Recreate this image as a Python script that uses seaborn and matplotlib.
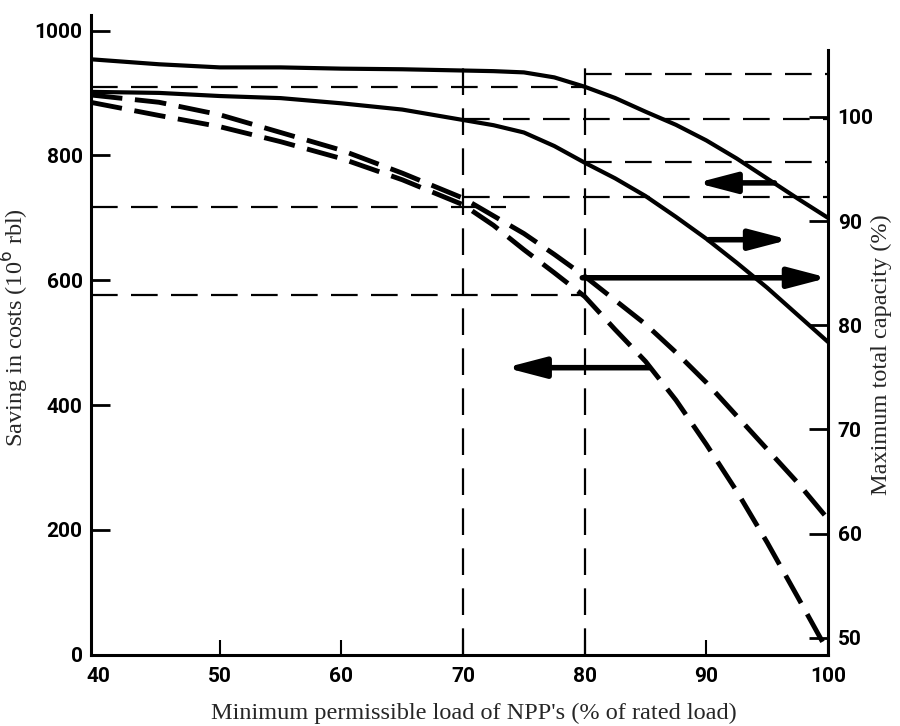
import matplotlib
matplotlib.use("Agg")
import matplotlib.pyplot as plt
import seaborn as sns

# values
load = [39.4, 45, 50, 55, 60, 65, 70, 72.5, 75, 77.5, 80, 82.5, 85, 87.5, 90, 92.5, 95, 97.5, 100]
saving_solid = [954, 946, 941, 941, 939, 938, 936, 935, 933, 925, 910, 892, 870, 849, 824, 795, 763, 731, 700]
saving_dashed = [885, 864, 846, 822, 795, 761, 721, 688, 649, 612, 574, 521, 470, 408, 337, 262, 180, 93, 5]
capacity_solid = [102.4, 102.3, 102.0, 101.8, 101.3, 100.7, 99.7, 99.2, 98.5, 97.2, 95.6, 94.1, 92.4,
                  90.4, 88.3, 86.0, 83.6, 81.0, 78.4]
capacity_dashed = [102.1, 101.4, 100.2, 98.5, 96.8, 94.6, 92.2, 90.5, 88.8, 86.8, 84.7, 82.4, 80.1,
                   77.4, 74.5, 71.3, 68.1, 64.9, 61.4]

# construction lines: (level, x start, x end)
guides_left = [(910, 39.4, 80), (718, 39.4, 73.5), (577, 39.4, 80)]
guides_right = [(104.1, 80, 100), (99.8, 70, 100), (95.7, 80, 100), (92.3, 70, 100)]
guides_vert = [70, 80]
guide_top = 950

# arrows: (tail x, head x, level on saving axis)
arrows = [(95.6, 89.2, 756), (90.2, 96.8, 665), (79.8, 100, 604), (85.3, 73.5, 460)]

x_ticks = [40, 50, 60, 70, 80, 90, 100]
left_ticks = [0, 200, 400, 600, 800, 1000]
right_ticks = [50, 60, 70, 80, 90, 100]

sns.set_style("ticks")
plt.rcParams["font.family"] = ["Roboto", "DejaVu Sans"]
serif = ["Liberation Serif", "DejaVu Serif"]

fig = plt.figure(figsize=(9, 7.26), dpi=100)
ax = fig.add_axes([0.101, 0.098, 0.819, 0.8857])
ax2 = ax.twinx()

ax.set_xlim(39.4, 100)
ax.set_ylim(0, 1030)
ax2.set_ylim(48.37, 110.08)

# guide lines
dash_thin = (0, (12, 6))
for lvl, x0, x1 in guides_left:
    ax.hlines(lvl, x0, x1, color="black", lw=1.6, linestyles=[dash_thin])
for lvl, x0, x1 in guides_right:
    ax2.hlines(lvl, x0, x1, color="black", lw=1.6, linestyles=[dash_thin])
ax.vlines(guides_vert, 0, guide_top, color="black", lw=1.6, linestyles=[dash_thin])

# curves
sns.lineplot(x=load, y=saving_solid, ax=ax, color="black", lw=3)
sns.lineplot(x=load, y=saving_dashed, ax=ax, color="black", lw=3.5)
ax.lines[-1].set_dashes((6.5, 2.6))
sns.lineplot(x=load, y=capacity_solid, ax=ax2, color="black", lw=3)
sns.lineplot(x=load, y=capacity_dashed, ax=ax2, color="black", lw=3.5)
ax2.lines[-1].set_dashes((6.5, 2.6))

for x0, x1, lvl in arrows:
    ax.annotate("", xy=(x1, lvl), xytext=(x0, lvl),
                arrowprops=dict(arrowstyle="-|>,head_length=0.65,head_width=0.17",
                                mutation_scale=36, lw=4, color="black",
                                shrinkA=0, shrinkB=0))

# axes styling
for s in ["top", "right"]:
    ax.spines[s].set_visible(False)
for s in ["top", "left", "bottom"]:
    ax2.spines[s].set_visible(False)
ax.spines["left"].set_bounds(0, 1025)
ax2.spines["right"].set_bounds(48.37, 106.4)
for sp in [ax.spines["left"], ax.spines["bottom"], ax2.spines["right"]]:
    sp.set_linewidth(2.2)
    sp.set_color("black")

ax.set_xticks(x_ticks)
ax.set_yticks(left_ticks)
ax2.set_yticks(right_ticks)
ax.tick_params(axis="y", direction="in", length=14, width=2, pad=6,
               labelsize=15, colors="black")
ax.tick_params(axis="x", direction="in", length=11, width=1.5, pad=9,
               labelsize=15, colors="black")
ax2.tick_params(axis="y", direction="in", length=14, width=2, pad=7,
                labelsize=15, colors="black")
ax.xaxis.get_major_ticks()[0].tick1line.set_visible(False)
for lab in ax.get_xticklabels() + ax.get_yticklabels() + ax2.get_yticklabels():
    lab.set_fontweight("bold")

ax.set_xlabel("Minimum permissible load of NPP's (% of rated load)",
              family=serif, fontsize=17.5)
ax.set_ylabel("Saving in costs (10$^6$ rbl)", family=serif, fontsize=17.5)
ax2.set_ylabel("Maximum total capacity (%)", family=serif, fontsize=17.5)
ax.xaxis.set_label_coords(0.52, -0.074)
ax.yaxis.set_label_coords(-0.081, 0.509)
ax2.yaxis.set_label_coords(1.058, 0.467)

fig.savefig("out.png", dpi=100)
